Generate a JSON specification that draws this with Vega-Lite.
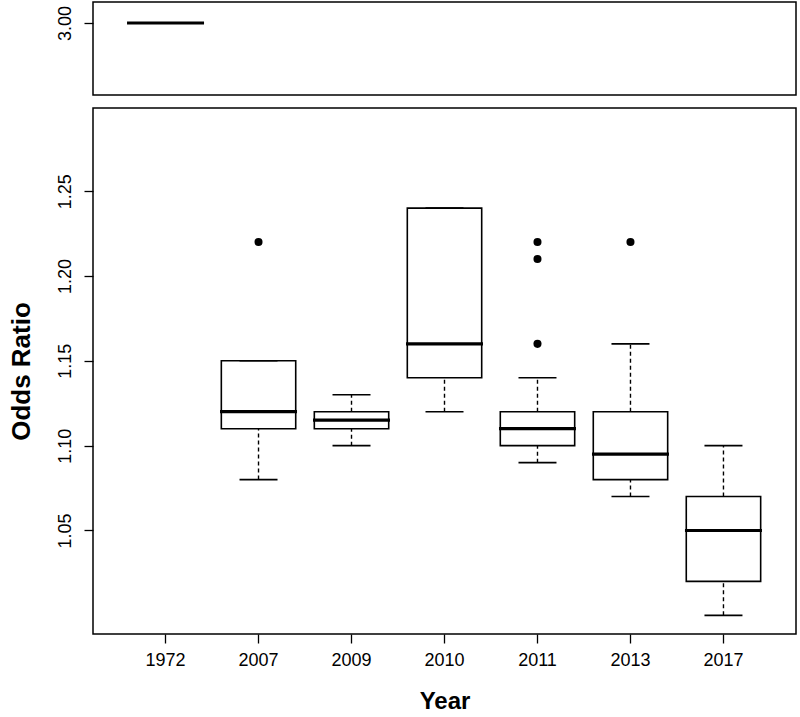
{
  "$schema": "https://vega.github.io/schema/vega-lite/v6.json",
  "padding": {"left": 7, "top": 1, "right": 2, "bottom": 0},
  "spacing": 11,
  "config": {
    "font": "Liberation Sans",
    "view": {"stroke": "black", "strokeWidth": 1.5},
    "tick": {"opacity": 1},
    "axis": {"grid": false, "domain": false, "tickColor": "black", "tickWidth": 1.3, "tickSize": 9, "labelFontSize": 18, "labelColor": "black", "titleFontSize": 24, "titleFontWeight": "bold", "titleColor": "black"}
  },
  "datasets": {
    "boxes": [
      {"year": "1972", "lower": 3.0, "q1": 3.0, "median": 3.0, "q3": 3.0, "upper": 3.0},
      {"year": "2007", "lower": 1.08, "q1": 1.11, "median": 1.12, "q3": 1.15, "upper": 1.15},
      {"year": "2009", "lower": 1.10, "q1": 1.11, "median": 1.115, "q3": 1.12, "upper": 1.13},
      {"year": "2010", "lower": 1.12, "q1": 1.14, "median": 1.16, "q3": 1.24, "upper": 1.24},
      {"year": "2011", "lower": 1.09, "q1": 1.10, "median": 1.11, "q3": 1.12, "upper": 1.14},
      {"year": "2013", "lower": 1.07, "q1": 1.08, "median": 1.095, "q3": 1.12, "upper": 1.16},
      {"year": "2017", "lower": 1.00, "q1": 1.02, "median": 1.05, "q3": 1.07, "upper": 1.10}
    ],
    "outliers": [
      {"year": "2007", "value": 1.22},
      {"year": "2011", "value": 1.22},
      {"year": "2011", "value": 1.21},
      {"year": "2011", "value": 1.16},
      {"year": "2013", "value": 1.22}
    ]
  },
  "vconcat": [
    {
      "width": 703,
      "height": 93,
      "data": {"name": "boxes"},
      "transform": [{"filter": "datum.year == '1972'"}],
      "mark": {"type": "tick", "color": "black", "size": 77, "thickness": 3, "opacity": 1},
      "encoding": {
        "x": {"field": "year", "type": "nominal", "axis": null,
              "scale": {"type": "band", "domain": ["1972","2007","2009","2010","2011","2013","2017"], "paddingInner": 0, "paddingOuter": 0.28}},
        "y": {"field": "median", "type": "quantitative",
              "scale": {"domain": [2.829, 3.05], "nice": false, "zero": false},
              "axis": {"values": [3.0], "format": ".2f", "title": null, "labelAngle": -90, "labelAlign": "center", "labelBaseline": "bottom", "labelPadding": 10}}
      }
    },
    {
      "width": 703,
      "height": 526,
      "encoding": {
        "x": {"field": "year", "type": "nominal",
              "scale": {"type": "band", "domain": ["1972","2007","2009","2010","2011","2013","2017"], "paddingInner": 0, "paddingOuter": 0.28},
              "axis": {"title": "Year", "labelAngle": 0, "labelPadding": 8, "titlePadding": 20}},
        "y": {"type": "quantitative",
              "scale": {"domain": [0.989, 1.299], "nice": false, "zero": false},
              "axis": {"values": [1.05, 1.10, 1.15, 1.20, 1.25], "format": ".2f", "title": "Odds Ratio", "labelAngle": -90, "labelAlign": "center", "labelBaseline": "bottom", "labelPadding": 10, "titlePadding": 22, "titleFontSize": 26}}
      },
      "layer": [
        {
          "data": {"name": "boxes"},
          "transform": [{"filter": "datum.year != '1972'"}],
          "mark": {"type": "rule", "color": "black", "strokeWidth": 1.4, "strokeDash": [4, 3]},
          "encoding": {
            "y": {"field": "lower", "type": "quantitative"},
            "y2": {"field": "q1"}
          }
        },
        {
          "data": {"name": "boxes"},
          "transform": [{"filter": "datum.year != '1972'"}],
          "mark": {"type": "rule", "color": "black", "strokeWidth": 1.4, "strokeDash": [4, 3]},
          "encoding": {
            "y": {"field": "q3", "type": "quantitative"},
            "y2": {"field": "upper"}
          }
        },
        {
          "data": {"name": "boxes"},
          "transform": [{"filter": "datum.year != '1972'"}],
          "mark": {"type": "bar", "fill": "white", "stroke": "black", "strokeWidth": 1.6, "width": {"band": 0.8}},
          "encoding": {
            "y": {"field": "q1", "type": "quantitative"},
            "y2": {"field": "q3"}
          }
        },
        {
          "data": {"name": "boxes"},
          "transform": [{"filter": "datum.year != '1972'"}],
          "mark": {"type": "tick", "color": "black", "size": 38, "thickness": 1.6, "opacity": 1},
          "encoding": {
            "y": {"field": "lower", "type": "quantitative"}
          }
        },
        {
          "data": {"name": "boxes"},
          "transform": [{"filter": "datum.year != '1972'"}],
          "mark": {"type": "tick", "color": "black", "size": 38, "thickness": 1.6, "opacity": 1},
          "encoding": {
            "y": {"field": "upper", "type": "quantitative"}
          }
        },
        {
          "data": {"name": "boxes"},
          "transform": [{"filter": "datum.year != '1972'"}],
          "mark": {"type": "tick", "color": "black", "size": 77, "thickness": 3.2, "opacity": 1},
          "encoding": {
            "y": {"field": "median", "type": "quantitative"}
          }
        },
        {
          "data": {"name": "outliers"},
          "mark": {"type": "point", "filled": true, "color": "black", "opacity": 1, "size": 65},
          "encoding": {
            "y": {"field": "value", "type": "quantitative"}
          }
        }
      ]
    }
  ]
}
